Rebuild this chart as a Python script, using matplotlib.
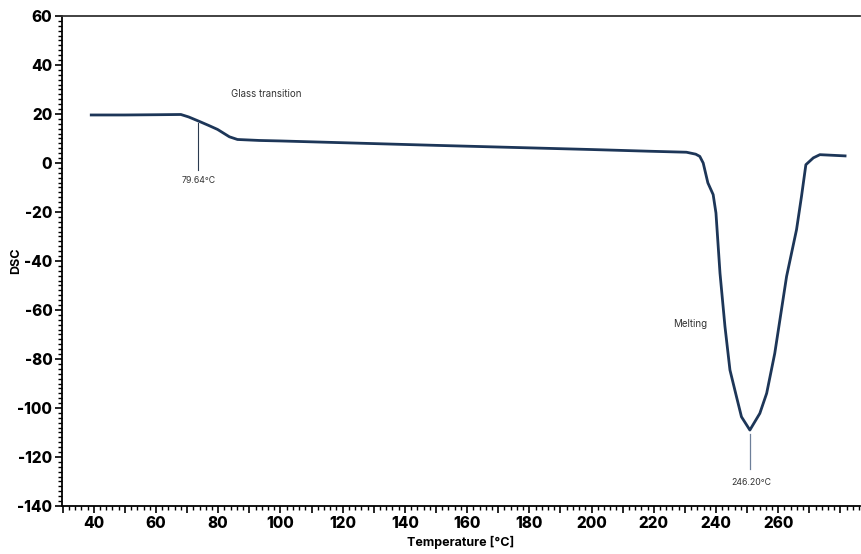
import numpy as np
import matplotlib
matplotlib.use("Agg")
import matplotlib.pyplot as plt
from matplotlib.ticker import FixedLocator, MultipleLocator, FuncFormatter

temp = [39.2, 50.0, 60.0, 68.0, 70.5, 73.9, 77.0, 79.8, 83.6, 86.2, 93.2,
        100.0, 122.2, 150.0, 200.0, 218.7, 230.5, 233.5, 234.8, 235.9, 237.4,
        239.1, 240.0, 241.3, 242.9, 244.5, 246.6, 248.2, 250.9, 254.1, 256.3,
        258.9, 262.7, 265.9, 267.5, 268.9, 271.3, 273.4, 281.5]
dsc = [19.6, 19.6, 19.7, 19.8, 18.8, 17.0, 15.3, 13.7, 10.7, 9.6, 9.2,
       9.0, 8.2, 7.2, 5.5, 4.8, 4.4, 3.6, 2.7, 0.0, -8.1,
       -12.9, -20.4, -45.0, -66.8, -84.5, -95.4, -103.6, -109.0, -102.2, -94.0,
       -77.7, -46.3, -27.2, -13.6, -0.7, 2.1, 3.4, 2.9]

x_labels = [40, 60, 80, 100, 120, 140, 160, 180, 200, 220, 240, 260]
y_ticks = [60, 40, 20, 0, -20, -40, -60, -80, -100, -120, -140]

navy = "#1d3658"
plt.rcParams['font.family'] = ['Inter', 'DejaVu Sans']
plt.rcParams['axes.unicode_minus'] = False

fig = plt.figure(figsize=(8.61, 5.54), dpi=100)
ax = fig.add_axes([62 / 861, 1 - 506 / 554, 798 / 861, 490 / 554])

ax.plot(temp, dsc, color=navy, lw=2.0, solid_joinstyle="round")

# Anotaciones
ax.plot([73.6, 73.6], [16.5, -2.8], color="#2b3a4f", lw=0.8)
ax.text(73.6, -7.2, "79.64°C", fontsize=6.3, color="#333333", ha="center", va="center")
ax.text(95.5, 28.3, "Glass transition", fontsize=7, color="#333333", ha="center", va="center")
ax.plot([250.9, 250.9], [-110.6, -124.7], color="#6d7f99", lw=0.9)
ax.text(251.4, -130.4, "246.20°C", fontsize=6.3, color="#333333", ha="center", va="center")
ax.text(231.8, -65.8, "Melting", fontsize=7, color="#333333", ha="center", va="center")

ax.set_xlim(29.8, 286.3)
ax.set_ylim(-140, 60)

ax.xaxis.set_major_locator(MultipleLocator(10))
ax.xaxis.set_minor_locator(MultipleLocator(2))
ax.xaxis.set_major_formatter(FuncFormatter(
    lambda v, p: str(int(round(v))) if int(round(v)) in x_labels else ""))
ax.yaxis.set_major_locator(FixedLocator(y_ticks))
ax.yaxis.set_minor_locator(MultipleLocator(2))

ax.tick_params(axis="both", which="major", length=5, width=1.2, labelsize=11,
               direction="out", pad=2, colors="black")
ax.tick_params(axis="both", which="minor", length=3, width=1.0, direction="out")
for lab in ax.get_xticklabels() + ax.get_yticklabels():
    lab.set_fontweight("heavy")

ax.spines["right"].set_visible(False)
ax.spines["left"].set_linewidth(1.3)
ax.spines["bottom"].set_linewidth(1.3)
ax.spines["top"].set_linewidth(1.3)
ax.spines["top"].set_color("#333333")

ax.set_xlabel("Temperature [°C]", fontsize=9, fontweight="bold", labelpad=4)
ax.set_ylabel("DSC", fontsize=9, fontweight="bold")
ax.yaxis.set_label_coords(-0.05, 0.5)

fig.savefig("out.png", dpi=100)
